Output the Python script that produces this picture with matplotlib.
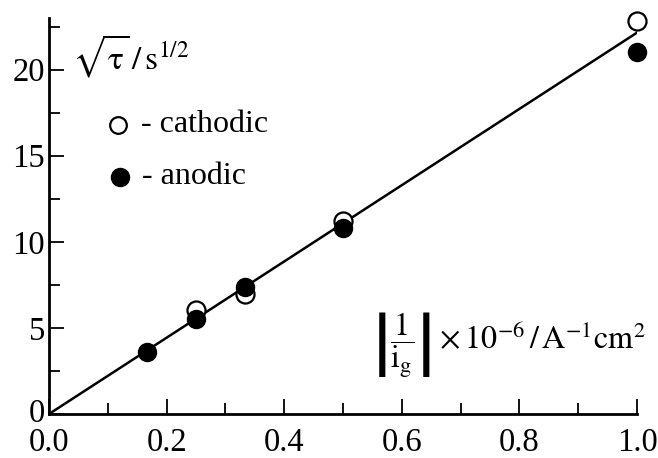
import matplotlib
matplotlib.use("Agg")
import matplotlib.pyplot as plt
import matplotlib.transforms as mtransforms
from matplotlib.ticker import MultipleLocator, FormatStrFormatter

plt.rcParams['font.family'] = ['Liberation Serif', 'DejaVu Serif']
plt.rcParams['mathtext.fontset'] = 'stix'

# data
x_cathodic = [0.25, 0.333, 0.5, 1.0]
y_cathodic = [6.05, 6.95, 11.2, 22.85]
x_anodic = [0.167, 0.25, 0.333, 0.5, 1.0]
y_anodic = [3.6, 5.5, 7.35, 10.8, 21.05]
fit_x = [0.0, 1.0]
fit_y = [0.0, 22.15]

fig = plt.figure(figsize=(6.58, 4.58), dpi=100)
ax = fig.add_axes([49/658, 1-414/458, 588/658, 396/458])

ax.plot(fit_x, fit_y, color='black', lw=1.8, zorder=2)
ax.plot(x_cathodic, y_cathodic, 'o', ms=13, mfc='white', mec='black', mew=1.6, zorder=3, clip_on=False)
ax.plot(x_anodic, y_anodic, 'o', ms=13, mfc='black', mec='black', zorder=4, clip_on=False)

ax.set_xlim(0, 1.0)
ax.set_ylim(0, 23)
ax.spines['top'].set_visible(False)
ax.spines['right'].set_visible(False)
for s in ('left', 'bottom'):
    ax.spines[s].set_linewidth(2.0)

ax.xaxis.set_major_locator(MultipleLocator(0.2))
ax.xaxis.set_minor_locator(MultipleLocator(0.1))
ax.yaxis.set_major_locator(MultipleLocator(5))
ax.yaxis.set_minor_locator(MultipleLocator(2.5))
ax.xaxis.set_major_formatter(FormatStrFormatter('%.1f'))
ax.tick_params(which='major', direction='in', length=11, width=1.3, labelsize=23.5)
ax.tick_params(which='minor', direction='in', length=8, width=1.3)
ax.tick_params(axis='x', which='major', pad=10)
ax.tick_params(axis='y', which='major', pad=3)

# nudge the y "0" label up a little so it does not collide with "0.0"
fig.canvas.draw()
for lab in ax.get_yticklabels():
    if lab.get_text() == '0':
        lab.set_transform(lab.get_transform() +
                          mtransforms.ScaledTranslation(0, 4/100, fig.dpi_scale_trans))

def axpos(px, py):
    return ((px - 49) / 588, (414 - py) / 396)

ax.text(*axpos(72, 69), r'$\sqrt{\mathrm{\tau}}\,/\,\mathrm{s}^{1/2}$', transform=ax.transAxes,
        fontsize=24, ha='left', va='baseline')

ax.plot(*axpos(118, 125), 'o', ms=12, mfc='white', mec='black', mew=1.6,
        transform=ax.transAxes, clip_on=False)
ax.plot(*axpos(120, 177), 'o', ms=13, mfc='black', mec='black',
        transform=ax.transAxes, clip_on=False)
ax.text(*axpos(141, 125), '- cathodic', transform=ax.transAxes, fontsize=23,
        ha='left', va='center')
ax.text(*axpos(142, 177), '- anodic', transform=ax.transAxes, fontsize=23,
        ha='left', va='center')

ax.text(*axpos(646, 345),
        r'$\left|\dfrac{1}{\mathrm{i}_\mathrm{g}}\right|\times10^{-6}\,/\,\mathrm{A}^{-1}\mathrm{cm}^{2}$',
        transform=ax.transAxes, fontsize=23, ha='right', va='center')

fig.savefig('out.png', dpi=100)
